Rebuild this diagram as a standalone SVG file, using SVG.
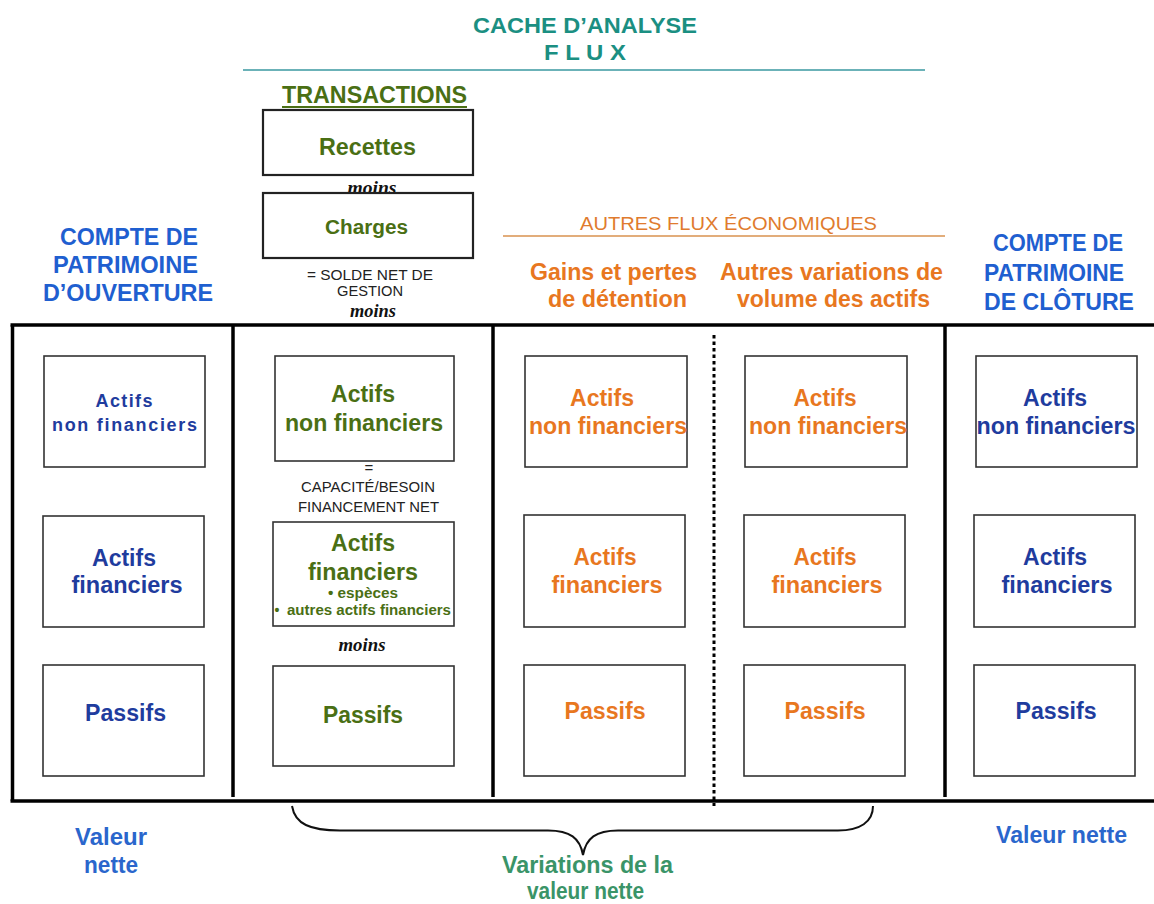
<svg xmlns="http://www.w3.org/2000/svg" width="1154" height="904" viewBox="0 0 1154 904">
<style>
text{font-family:"Liberation Sans",Arial,sans-serif;text-anchor:middle;}
.b{font-weight:bold;}
.h23{font-size:23px;font-weight:bold;}
.teal{fill:#1b8f82;}
.grn{fill:#4a6f14;}
.blu{fill:#1f5fd0;}
.navy{fill:#1f3c9e;}
.org{fill:#e8771f;}
.vgr{fill:#3a9468;}
.sm{font-size:15px;fill:#222;}
.moins{font-family:"Liberation Serif","Times New Roman",serif;font-style:italic;font-weight:bold;font-size:18px;fill:#111;}
.box{fill:#fff;stroke:#333;stroke-width:1.6;}
.tbox{fill:#fff;stroke:#222;stroke-width:2.2;}
.frame{stroke:#000;stroke-width:3.5;fill:none;}
</style>

<g id="header">
<text class="teal b" x="585" y="33" font-size="22" textLength="224" lengthAdjust="spacingAndGlyphs">CACHE D’ANALYSE</text>
<text class="teal b" x="585" y="60" font-size="22" textLength="82" lengthAdjust="spacingAndGlyphs">F L U X</text>
<line x1="243" y1="70" x2="925" y2="70" stroke="#3a98a0" stroke-width="1.5"/>
</g>

<g id="transactions">
<text class="grn h23" x="374.5" y="103" textLength="185" lengthAdjust="spacingAndGlyphs">TRANSACTIONS</text>
<line x1="282" y1="107" x2="467" y2="107" stroke="#4a6f14" stroke-width="2"/>
</g>

<g id="recettes">
<rect class="tbox" x="263" y="110" width="210" height="65"/>
<text class="grn h23" x="367.5" y="155" textLength="97" lengthAdjust="spacingAndGlyphs">Recettes</text>
</g>
<text class="moins" x="372" y="194" textLength="49" lengthAdjust="spacingAndGlyphs">moins</text>
<g id="charges">
<rect class="tbox" x="263" y="193" width="210" height="65"/>
<text class="grn b" x="366.5" y="234" font-size="20" textLength="83" lengthAdjust="spacingAndGlyphs">Charges</text>
</g>
<g id="solde">
<text class="sm" x="370" y="280" textLength="126" lengthAdjust="spacingAndGlyphs">=  SOLDE NET DE</text>
<text class="sm" x="370" y="296" textLength="66" lengthAdjust="spacingAndGlyphs">GESTION</text>
<text class="moins" x="373" y="317" textLength="46" lengthAdjust="spacingAndGlyphs">moins</text>
</g>

<g id="compte-ouverture">
<text class="blu h23" x="129" y="245" textLength="138" lengthAdjust="spacingAndGlyphs">COMPTE DE</text>
<text class="blu h23" x="125.5" y="273" textLength="145" lengthAdjust="spacingAndGlyphs">PATRIMOINE</text>
<text class="blu h23" x="128" y="301" textLength="170" lengthAdjust="spacingAndGlyphs">D’OUVERTURE</text>
</g>

<g id="autres-flux">
<text class="org" x="728.5" y="230" font-size="19" textLength="297" lengthAdjust="spacingAndGlyphs" style="fill:#e07b2e">AUTRES FLUX ÉCONOMIQUES</text>
<line x1="503" y1="236" x2="945" y2="236" stroke="#d9924f" stroke-width="1.5"/>
</g>
<g id="gains-pertes">
<text class="org h23" x="613.5" y="280" textLength="167" lengthAdjust="spacingAndGlyphs">Gains et pertes</text>
<text class="org h23" x="617.5" y="307" textLength="139" lengthAdjust="spacingAndGlyphs">de détention</text>
</g>
<g id="autres-variations">
<text class="org h23" x="831.5" y="280" textLength="223" lengthAdjust="spacingAndGlyphs">Autres variations de</text>
<text class="org h23" x="833.5" y="307" textLength="193" lengthAdjust="spacingAndGlyphs">volume des actifs</text>
</g>

<g id="compte-cloture">
<text class="blu h23" x="1058" y="251" textLength="130" lengthAdjust="spacingAndGlyphs">COMPTE DE</text>
<text class="blu h23" x="1054" y="281" textLength="140" lengthAdjust="spacingAndGlyphs">PATRIMOINE</text>
<text class="blu h23" x="1059" y="310" textLength="150" lengthAdjust="spacingAndGlyphs">DE CLÔTURE</text>
</g>

<g id="frame">
<line class="frame" x1="10.5" y1="325" x2="1154" y2="325"/>
<line class="frame" x1="10.5" y1="801" x2="1154" y2="801"/>
<line class="frame" x1="12.5" y1="325" x2="12.5" y2="801"/>
<line class="frame" x1="233" y1="325" x2="233" y2="797"/>
<line class="frame" x1="493" y1="325" x2="493" y2="797"/>
<line class="frame" x1="945" y1="325" x2="945" y2="797"/>
<line x1="714" y1="335" x2="714" y2="806" stroke="#000" stroke-width="3" stroke-dasharray="3.5 3"/>
</g>

<!-- Column 1 -->
<g id="c1-anf">
<rect class="box" x="44" y="356" width="161" height="111"/>
<text class="navy b" x="124" y="407" font-size="18" textLength="57">Actifs</text>
<text class="navy b" x="124.5" y="431" font-size="18" textLength="145">non financiers</text>
</g>
<g id="c1-af">
<rect class="box" x="43" y="516" width="161" height="111"/>
<text class="navy h23" x="124" y="566" textLength="64" lengthAdjust="spacingAndGlyphs">Actifs</text>
<text class="navy h23" x="127" y="593" textLength="111" lengthAdjust="spacingAndGlyphs">financiers</text>
</g>
<g id="c1-p">
<rect class="box" x="43" y="665" width="161" height="111"/>
<text class="navy h23" x="125.5" y="721" textLength="81" lengthAdjust="spacingAndGlyphs">Passifs</text>
</g>

<!-- Column 2 -->
<g id="c2-anf">
<rect class="box" x="275" y="356" width="179" height="105"/>
<text class="grn h23" x="363" y="402" textLength="64" lengthAdjust="spacingAndGlyphs">Actifs</text>
<text class="grn h23" x="364" y="431" textLength="158" lengthAdjust="spacingAndGlyphs">non financiers</text>
</g>
<g id="capacite">
<text class="sm" x="369" y="473">=</text>
<text class="sm" x="368" y="492" textLength="134" lengthAdjust="spacingAndGlyphs">CAPACITÉ/BESOIN</text>
<text class="sm" x="368.5" y="512" textLength="141" lengthAdjust="spacingAndGlyphs">FINANCEMENT NET</text>
</g>
<g id="c2-af">
<rect class="box" x="273" y="522" width="181" height="104"/>
<text class="grn h23" x="363" y="551" textLength="64" lengthAdjust="spacingAndGlyphs">Actifs</text>
<text class="grn h23" x="363" y="580" textLength="110" lengthAdjust="spacingAndGlyphs">financiers</text>
<text class="grn b" x="363" y="598" font-size="14" textLength="70" lengthAdjust="spacingAndGlyphs">• espèces</text>
<text class="grn b" x="277" y="615" font-size="14">•</text>
<text class="grn b" x="369" y="615" font-size="14" textLength="164" lengthAdjust="spacingAndGlyphs">autres actifs financiers</text>
</g>
<text class="moins" x="362" y="651" textLength="47" lengthAdjust="spacingAndGlyphs">moins</text>
<g id="c2-p">
<rect class="box" x="273" y="666" width="181" height="100"/>
<text class="grn h23" x="363" y="723" textLength="80" lengthAdjust="spacingAndGlyphs">Passifs</text>
</g>

<!-- Column 3 -->
<g id="c3-anf">
<rect class="box" x="525" y="356" width="162" height="111"/>
<text class="org h23" x="602" y="406" textLength="64" lengthAdjust="spacingAndGlyphs">Actifs</text>
<text class="org h23" x="608" y="434" textLength="158" lengthAdjust="spacingAndGlyphs">non financiers</text>
</g>
<g id="c3-af">
<rect class="box" x="524" y="515" width="161" height="112"/>
<text class="org h23" x="605" y="565" textLength="63" lengthAdjust="spacingAndGlyphs">Actifs</text>
<text class="org h23" x="607" y="593" textLength="111" lengthAdjust="spacingAndGlyphs">financiers</text>
</g>
<g id="c3-p">
<rect class="box" x="524" y="665" width="161" height="111"/>
<text class="org h23" x="605" y="719" textLength="81" lengthAdjust="spacingAndGlyphs">Passifs</text>
</g>

<!-- Column 4 -->
<g id="c4-anf">
<rect class="box" x="745" y="356" width="162" height="111"/>
<text class="org h23" x="825" y="406" textLength="63" lengthAdjust="spacingAndGlyphs">Actifs</text>
<text class="org h23" x="828" y="434" textLength="158" lengthAdjust="spacingAndGlyphs">non financiers</text>
</g>
<g id="c4-af">
<rect class="box" x="744" y="515" width="161" height="112"/>
<text class="org h23" x="825" y="565" textLength="63" lengthAdjust="spacingAndGlyphs">Actifs</text>
<text class="org h23" x="827" y="593" textLength="111" lengthAdjust="spacingAndGlyphs">financiers</text>
</g>
<g id="c4-p">
<rect class="box" x="744" y="665" width="161" height="111"/>
<text class="org h23" x="825" y="719" textLength="81" lengthAdjust="spacingAndGlyphs">Passifs</text>
</g>

<!-- Column 5 -->
<g id="c5-anf">
<rect class="box" x="976" y="356" width="161" height="111"/>
<text class="navy h23" x="1055" y="406" textLength="64" lengthAdjust="spacingAndGlyphs">Actifs</text>
<text class="navy h23" x="1056" y="434" textLength="159" lengthAdjust="spacingAndGlyphs">non financiers</text>
</g>
<g id="c5-af">
<rect class="box" x="974" y="515" width="161" height="112"/>
<text class="navy h23" x="1055" y="565" textLength="64" lengthAdjust="spacingAndGlyphs">Actifs</text>
<text class="navy h23" x="1057" y="593" textLength="111" lengthAdjust="spacingAndGlyphs">financiers</text>
</g>
<g id="c5-p">
<rect class="box" x="974" y="665" width="161" height="111"/>
<text class="navy h23" x="1056" y="719" textLength="81" lengthAdjust="spacingAndGlyphs">Passifs</text>
</g>

<g id="connectors">
<path d="M292 806 C295 824 310 830.5 340 830.5 L548 830.5 C570 830.5 580 838 583 855 C586 838 596 830.5 618 830.5 L838 830.5 C860 830.5 873 822 873 806" fill="none" stroke="#111" stroke-width="2"/>
</g>

<g id="valeur-ouverture">
<text class="h23" x="111" y="845" textLength="72" lengthAdjust="spacingAndGlyphs" style="fill:#2a66cc">Valeur</text>
<text class="h23" x="111" y="872.5" textLength="54" lengthAdjust="spacingAndGlyphs" style="fill:#2a66cc">nette</text>
</g>
<g id="variations">
<text class="vgr h23" x="587.5" y="873" textLength="171" lengthAdjust="spacingAndGlyphs">Variations de la</text>
<text class="vgr h23" x="585.5" y="899" textLength="117" lengthAdjust="spacingAndGlyphs">valeur nette</text>
</g>
<g id="valeur-cloture">
<text class="h23" x="1061.5" y="843" textLength="131" lengthAdjust="spacingAndGlyphs" style="fill:#2a66cc">Valeur nette</text>
</g>
</svg>
